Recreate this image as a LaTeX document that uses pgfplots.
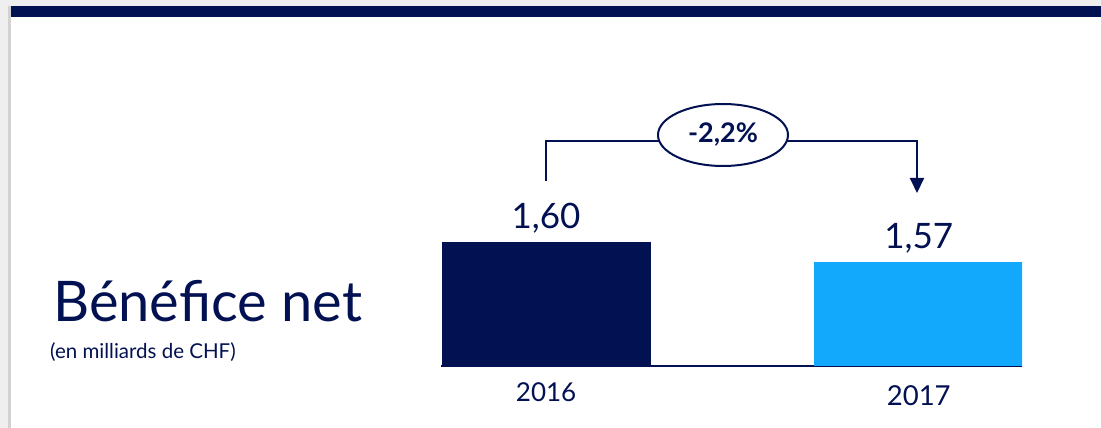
\documentclass[border=0pt]{standalone}
\usepackage{fontspec}
\setmainfont{Lato}
\usepackage{pgfplots}
\pgfplotsset{compat=1.18}
\usetikzlibrary{arrows.meta,shapes.geometric}
\definecolor{navy}{HTML}{021152}
\definecolor{sky}{HTML}{12A8FC}
\definecolor{pagegray}{HTML}{EFEFEF}

\begin{document}
\begin{tikzpicture}[x=1pt,y=1pt]
% slide background
\path[use as bounding box] (0,0) rectangle (1101,428);
\fill[pagegray] (0,0) rectangle (1101,428);
\fill[gray!35] (8,0) rectangle (11,422);
\fill[white] (10.5,0) rectangle (1101,422);
\fill[navy] (10.5,411) rectangle (1101,422);

% title
\node[anchor=base west, inner sep=0, text=navy, font=\fontsize{56}{60}\selectfont] at (53,106) {Bénéfice net};
\node[anchor=base west, inner sep=0, text=navy, font=\fontsize{20.5}{22}\selectfont] at (50,69) {(en milliards de CHF)};

\begin{axis}[
  at={(441pt,62pt)}, anchor=south west,
  scale only axis, width=581pt, height=200pt,
  xmin=-0.282, xmax=1.277,
  ymin=1.414, ymax=1.714,
  ybar, bar width=209pt, bar shift=0pt,
  hide y axis,
  axis x line=bottom,
  x axis line style={-, draw=navy, line width=1.5pt},
  xtick={0}, xticklabels={2016},
  extra x ticks={1}, extra x tick labels={2017},
  extra x tick style={xticklabel style={font=\fontsize{27.5}{28}\selectfont, yshift=-3pt}},
  major tick length=0pt,
  xticklabel style={font=\fontsize{26}{26}\selectfont, text=navy, yshift=-13pt},
  nodes near coords={\pgfmathprintnumber[use comma,fixed,fixed zerofill,precision=2,assume math mode=true]{\pgfplotspointmeta}},
  nodes near coords style={font=\fontsize{35}{35}\selectfont, text=navy, yshift=5pt},
]
\addplot[fill=navy, draw=none] coordinates {(0,1.60)};
\addplot[fill=sky, draw=none] coordinates {(1,1.57)};
\end{axis}

% change bracket
\draw[navy, line width=2pt] (546,247) -- (546,287) -- (917,287) -- (917,250);
\draw[navy, line width=2pt, -{Triangle[width=14pt,length=15pt]}] (917,255) -- (917,235);
\node[ellipse, draw=navy, fill=white, line width=2pt, minimum width=130pt, minimum height=62pt, inner sep=0, text=navy, font=\fontsize{27}{27}\selectfont\bfseries] at (723,293) {-2,2\%};
\end{tikzpicture}
\end{document}
